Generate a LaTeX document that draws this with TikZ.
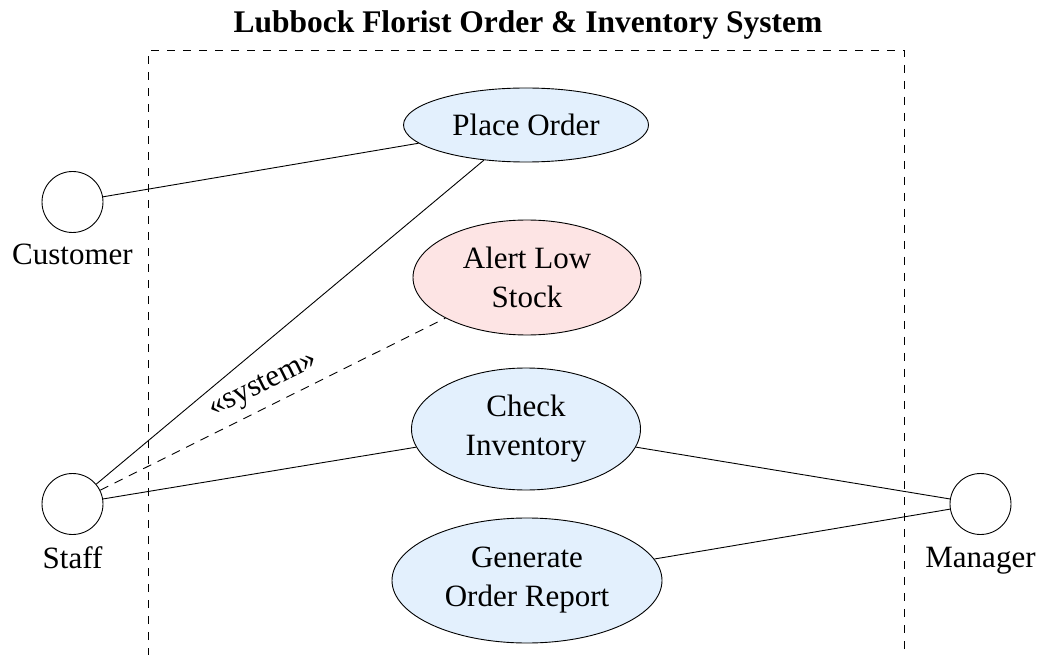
\documentclass[tikz,border=0pt]{standalone}
\usepackage{fontspec}
\setmainfont{Liberation Serif}
\usetikzlibrary{shapes.geometric}
\definecolor{ucblue}{RGB}{227,240,253}
\definecolor{ucpink}{RGB}{253,228,228}
\begin{document}
\begin{tikzpicture}[x=1pt,y=-1pt,
  every node/.style={font=\fontsize{31}{39}\selectfont},
  usecase/.style={ellipse,draw=black,line width=0.9pt,inner sep=0pt,align=center},
  actor/.style={circle,draw=black,line width=0.9pt,minimum size=61pt,inner sep=0pt},
  actorlabel/.style={anchor=base,inner sep=0pt},
  conn/.style={draw=black,line width=0.9pt},
  depconn/.style={conn,dash pattern=on 9pt off 7pt},
  boundary/.style={draw=black,line width=0.9pt,dash pattern=on 8pt off 8pt}]
\useasboundingbox (0,0) rectangle (1042,655);
\draw[boundary] (148.5,656) -- (148.5,50.5) -- (904.5,50.5) -- (904.5,656);
\node[font=\fontsize{31.5}{38}\selectfont\bfseries, anchor=base, inner sep=0pt] (title) at (528,33) {Lubbock Florist Order \& Inventory System};

\node[usecase, fill=ucblue, minimum width=245pt, minimum height=74pt] (place) at (526,125) {Place Order};
\node[usecase, fill=ucpink, minimum width=228pt, minimum height=115pt] (alert) at (527,277.5) {Alert Low\\Stock};
\node[usecase, fill=ucblue, minimum width=229pt, minimum height=122pt] (check) at (526,429) {Check\\Inventory};
\node[usecase, fill=ucblue, minimum width=270pt, minimum height=125pt] (report) at (527,580.5) {Generate\\Order Report};

\node[actor] (customer) at (72.5,202) {};
\node[actorlabel] (customerlbl) at (72.5,265) {Customer};
\node[actor] (staff) at (72.5,504) {};
\node[actorlabel] (stafflbl) at (72.5,568) {Staff};
\node[actor] (manager) at (980.5,504) {};
\node[actorlabel] (managerlbl) at (980.5,567) {Manager};

\draw[conn] (customer) -- (place);
\draw[conn] (staff) -- (place);
\draw[depconn] (staff) -- node[midway, above, sloped, inner sep=8pt] (stereo) {«system»} (alert);
\draw[conn] (staff) -- (check);
\draw[conn] (manager) -- (check);
\draw[conn] (manager) -- (report);
\end{tikzpicture}
\end{document}
